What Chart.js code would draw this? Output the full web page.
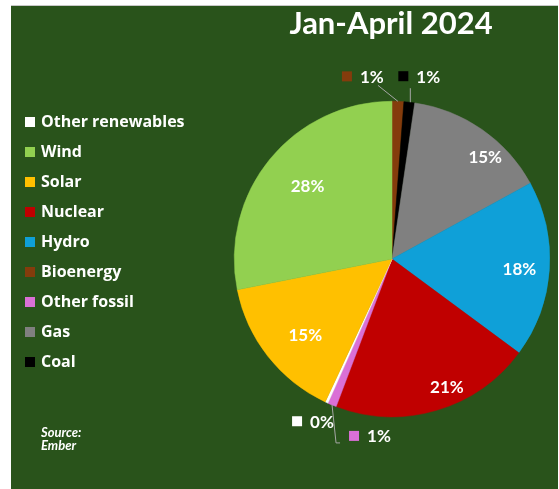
<!DOCTYPE html>
<html>
<head>
<meta charset="utf-8">
<script src="https://cdn.jsdelivr.net/npm/chart.js@4.4.1/dist/chart.umd.min.js"></script>
<style>
  html, body { margin: 0; padding: 0; background: #ffffff; }
  canvas { display: block; }
</style>
</head>
<body>
<canvas id="mix" width="559" height="489"></canvas>
<script>
// Generation mix, share of total (%), in slice order starting at 12 o'clock
const categories = ['Bioenergy', 'Coal', 'Gas', 'Hydro', 'Nuclear', 'Other fossil', 'Other renewables', 'Solar', 'Wind'];
const shares = [1.2, 1.1, 14.7, 18.1, 20.6, 0.9, 0.3, 14.9, 28.1];
const sliceColors = ['#843C0C', '#000000', '#808080', '#0FA0D8', '#C00000', '#DA70D6', '#FFFFFF', '#FFC000', '#92D050'];
const legendOrder = ['Other renewables', 'Wind', 'Solar', 'Nuclear', 'Hydro', 'Bioenergy', 'Other fossil', 'Gas', 'Coal'];
const titleText = 'Jan-April 2024';
const sourceLines = ['Source:', 'Ember'];

const PANEL_GREEN = '#29531B';
const FONT = 'Lato, "Open Sans", sans-serif';
const LEGEND_FONT = '"Open Sans", Lato, sans-serif';

// label placement: inside labels sit on the slice bisector (shift in degrees, radius fraction)
const insideSpots = {
    2: { shift: 7.4, r: 0.88 },
    3: { shift: 0.4, r: 0.81 },
    4: { shift: -6.9, r: 0.88 },
    7: { shift: -3, r: 0.73 },
    8: { shift: 1.7, r: 0.71 }
};
// small slices get an outside key + value, offsets from the rim point of the bisector
const outsideSpots = {
    0: { dx: -56, dy: -25, leader: [[0, 0], [-20, -16]] },
    1: { dx: -11, dy: -26, leader: [[1, 0], [1, -14]] },
    5: { dx: 17, dy: 31, leader: [[0, 0], [4, 38], [8, 38]] },
    6: { dx: -34.5, dy: 18.7, leader: null }
};

const total = shares.reduce((a, b) => a + b, 0);
const pctText = v => Math.round(v / total * 100) + '%';

const panelPlugin = {
    id: 'panel',
    beforeDraw(chart) {
        const ctx = chart.ctx;
        ctx.save();
        ctx.fillStyle = '#ffffff';
        ctx.fillRect(0, 0, chart.width, chart.height);
        ctx.fillStyle = PANEL_GREEN;
        ctx.fillRect(11, 6, 547, chart.height - 6);
        ctx.fillStyle = '#C8C8C8';
        ctx.fillRect(11, 5, 547, 1);
        ctx.restore();
    }
};

const sidePlugin = {
    id: 'side',
    afterDraw(chart) {
        const ctx = chart.ctx;
        ctx.save();
        // title
        ctx.fillStyle = '#ffffff';
        ctx.font = 'bold 31px ' + FONT;
        ctx.textAlign = 'center';
        ctx.textBaseline = 'alphabetic';
        ctx.fillText(titleText, 391, 34);

        // legend
        ctx.font = 'bold 16px ' + LEGEND_FONT;
        ctx.textAlign = 'left';
        ctx.textBaseline = 'middle';
        legendOrder.forEach((name, i) => {
            const y = 122 + i * 30;
            ctx.fillStyle = sliceColors[categories.indexOf(name)];
            ctx.fillRect(25, y - 5, 10, 10);
            ctx.fillStyle = '#ffffff';
            ctx.fillText(name, 41, y);
        });

        // source note
        ctx.font = 'italic bold 13px ' + FONT;
        sourceLines.forEach((s, i) => ctx.fillText(s, 41, 433 + i * 13));
        ctx.restore();
    }
};

const labelPlugin = {
    id: 'sliceLabels',
    afterDatasetsDraw(chart) {
        const ctx = chart.ctx;
        const meta = chart.getDatasetMeta(0);
        ctx.save();
        ctx.font = 'bold 17px ' + FONT;
        ctx.textBaseline = 'middle';
        meta.data.forEach((arc, i) => {
            const mid = (arc.startAngle + arc.endAngle) / 2;
            const R = arc.outerRadius;
            if (insideSpots[i]) {
                const spot = insideSpots[i];
                const a = mid + spot.shift * Math.PI / 180;
                ctx.fillStyle = '#ffffff';
                ctx.textAlign = 'center';
                ctx.fillText(pctText(shares[i]), arc.x + Math.cos(a) * R * spot.r, arc.y + Math.sin(a) * R * spot.r + 1);
            } else if (outsideSpots[i]) {
                const spot = outsideSpots[i];
                const ex = arc.x + Math.cos(mid) * R;
                const ey = arc.y + Math.sin(mid) * R;
                if (spot.leader) {
                    ctx.strokeStyle = '#A6A6A6';
                    ctx.lineWidth = 1;
                    ctx.beginPath();
                    spot.leader.forEach(([lx, ly], k) => {
                        if (k === 0) ctx.moveTo(ex + lx, ey + ly);
                        else ctx.lineTo(ex + lx, ey + ly);
                    });
                    ctx.stroke();
                }
                const bx = ex + spot.dx;
                const by = ey + spot.dy;
                ctx.fillStyle = sliceColors[i];
                ctx.fillRect(bx, by - 5, 10, 10);
                ctx.fillStyle = '#ffffff';
                ctx.textAlign = 'left';
                ctx.fillText(pctText(shares[i]), bx + 18, by + 1);
            }
        });
        ctx.restore();
    }
};

function drawChart() {
    const ctx = document.getElementById('mix').getContext('2d');
    new Chart(ctx, {
        type: 'pie',
        data: {
            labels: categories,
            datasets: [{
                data: shares,
                backgroundColor: sliceColors,
                borderColor: sliceColors,
                borderWidth: 0.5
            }]
        },
        options: {
            responsive: false,
            animation: false,
            devicePixelRatio: 1,
            layout: { padding: { left: 234, right: 9, top: 101, bottom: 72 } },
            plugins: {
                legend: { display: false },
                title: { display: false },
                tooltip: { enabled: false }
            }
        },
        plugins: [panelPlugin, labelPlugin, sidePlugin]
    });
}

Promise.all([
    document.fonts.load('bold 31px Lato'),
    document.fonts.load('bold 16px "Open Sans"'),
    document.fonts.load('italic bold 13px Lato')
]).then(drawChart, drawChart);
</script>
</body>
</html>
